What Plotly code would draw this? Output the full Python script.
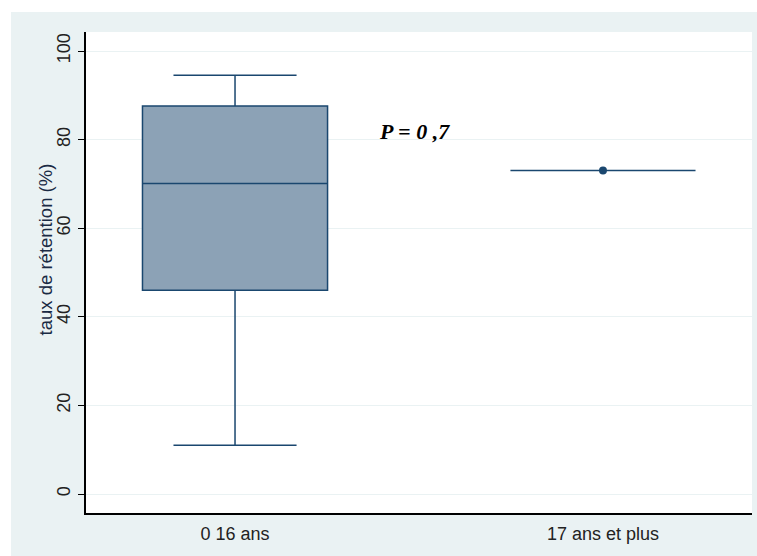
import plotly.graph_objects as go

categories = ["0 16 ans", "17 ans et plus"]
q1 = [46.0, 73.0]
median = [70.1, 73.0]
q3 = [87.6, 73.0]
lowerfence = [11.0, 73.0]
upperfence = [94.5, 73.0]
point_cat = ["17 ans et plus"]
point_val = [73.0]
y_ticks = [0, 20, 40, 60, 80, 100]
annotation_text = "P = 0 ,7"
y_title = "taux de rétention (%)"

navy = "#1A476F"
fill = "#8CA2B6"
bg = "#EAF2F3"

fig = go.Figure()
fig.add_trace(go.Box(
    x=categories, q1=q1, median=median, q3=q3,
    lowerfence=lowerfence, upperfence=upperfence,
    fillcolor=fill, line=dict(color=navy, width=1.5),
    width=0.503, whiskerwidth=0.665, boxpoints=False,
    showlegend=False, hoverinfo="skip",
))
fig.add_trace(go.Scatter(
    x=point_cat, y=point_val, mode="markers",
    marker=dict(symbol="circle", size=8, color=navy),
    showlegend=False, hoverinfo="skip",
))

fig.add_annotation(
    x=0.387, y=81.9, xref="x", yref="y",
    text="<b><i>" + annotation_text + "</i></b>",
    showarrow=False, xanchor="left", yanchor="middle",
    font=dict(family="Liberation Serif", size=22, color="black"),
)
# y-axis title
fig.add_annotation(
    x=-0.0616, y=0.548, xref="paper", yref="paper",
    text=y_title, textangle=-90, showarrow=False,
    xanchor="center", yanchor="middle",
    font=dict(family="Liberation Sans", size=18.5, color="#1a2a44"),
)

# white page strips outside the light panel (left and top)
fig.add_shape(type="rect", xref="paper", yref="paper",
              x0=-0.3, x1=-0.1126, y0=-0.2, y1=1.2,
              fillcolor="white", line=dict(width=0), layer="below")
fig.add_shape(type="rect", xref="paper", yref="paper",
              x0=-0.3, x1=1.2, y0=1.0416, y1=1.2,
              fillcolor="white", line=dict(width=0), layer="below")

fig.update_layout(
    width=757, height=556,
    margin=dict(l=86, r=5, t=32, b=43),
    paper_bgcolor=bg, plot_bgcolor="white",
    font=dict(family="Liberation Sans", size=18, color="#222222"),
)
fig.update_xaxes(
    type="category", range=[-0.405, 1.405], automargin=False,
    showgrid=False, zeroline=False,
    showline=True, linecolor="black", linewidth=1.5,
    ticks="outside", ticklen=4, tickcolor="rgba(0,0,0,0)",
    tickfont=dict(size=18, color="#222222"),
)
fig.update_yaxes(
    range=[-4.29, 104.29], tickvals=y_ticks, automargin=False,
    showgrid=True, gridcolor=bg, gridwidth=1, zeroline=False,
    showline=True, linecolor="black", linewidth=1.5,
    ticks="outside", ticklen=6, tickcolor="black", tickwidth=1.2,
    tickangle=-90, ticklabelstandoff=1,
    tickfont=dict(size=18, color="#222222"),
)

fig.write_html("out.html", config={"displayModeBar": False},
               post_script="document.body.style.margin='0px';")
